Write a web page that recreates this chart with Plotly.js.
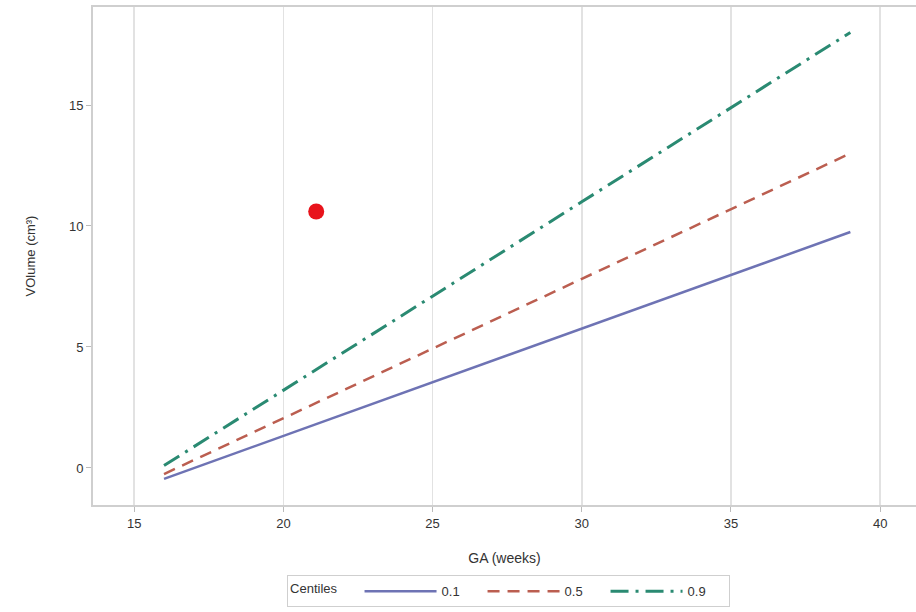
<!DOCTYPE html>
<html>
<head>
<meta charset="utf-8">
<script src="https://cdn.plot.ly/plotly-3.0.1.min.js"></script>
<style>html,body{margin:0;padding:0;background:#fff;}#chart{width:916px;height:612px;}</style>
</head>
<body>
<div id="chart"></div>
<script>
// Data
const ga = [16, 20, 25, 30, 35, 39];
const centile01 = [-0.45, 1.32, 3.54, 5.75, 7.97, 9.75];
const centile05 = [-0.25, 2.05, 4.93, 7.82, 10.7, 13.0];
const centile09 = [0.1, 3.2, 7.1, 11.0, 14.9, 18.0];
const pointGA = [21.1];
const pointVol = [10.6];
const seriesNames = ['0.1', '0.5', '0.9'];
const xTicks = [15, 20, 25, 30, 35, 40];
const yTicks = [0, 5, 10, 15];

const font = {family: 'Liberation Sans, Arial, sans-serif', size: 13, color: '#333'};

const traces = [
  {x: ga, y: centile01, mode: 'lines', name: seriesNames[0],
   line: {color: '#6e73b4', width: 2.5, dash: 'solid'}},
  {x: ga, y: centile05, mode: 'lines', name: seriesNames[1],
   line: {color: '#bb5e50', width: 2.5, dash: '12px,8px'}},
  {x: ga, y: centile09, mode: 'lines', name: seriesNames[2],
   line: {color: '#2a8a72', width: 3, dash: '18px,7px,3px,7px'}},
  {x: pointGA, y: pointVol, mode: 'markers', showlegend: false,
   marker: {color: '#e8131b', size: 16}}
];

const layout = {
  width: 916, height: 612,
  margin: {l: 93, r: 0, t: 7, b: 107, autoexpand: false},
  paper_bgcolor: '#fff', plot_bgcolor: '#fff',
  font: font,
  showlegend: true,
  xaxis: {
    range: [13.62, 41.2],
    tickvals: xTicks, ticktext: xTicks.map(String),
    showgrid: true, gridcolor: '#e2e2e2', gridwidth: 1.5,
    zeroline: false,
    showline: true, linecolor: '#cfcfcf', linewidth: 2, mirror: true,
    ticks: 'outside', ticklen: 5, tickcolor: '#bbb', tickwidth: 1,
    title: {text: 'GA (weeks)', font: {size: 14, color: '#333'}, standoff: 24}
  },
  yaxis: {
    range: [-1.53, 19.05],
    tickvals: yTicks, ticktext: yTicks.map(String),
    showgrid: false, zeroline: false,
    showline: true, linecolor: '#cfcfcf', linewidth: 2, mirror: true,
    ticks: 'outside', ticklen: 5, tickcolor: '#bbb', tickwidth: 1,
    title: {text: 'VOlume (cm³)', font: {size: 13, color: '#333'}, standoff: 30}
  },
  legend: {
    orientation: 'h', x: 0.505, xanchor: 'center', y: -0.141, yanchor: 'top',
    bordercolor: '#cfcfcf', borderwidth: 1, bgcolor: '#fff',
    title: {text: 'Centiles\u00a0\u00a0\u00a0\u00a0', font: {size: 13, color: '#333'}, side: 'left'},
    font: {size: 13, color: '#333'},
    itemwidth: 72,
    entrywidth: 36, entrywidthmode: 'pixels'
  }
};

Plotly.newPlot('chart', traces, layout, {displayModeBar: false, staticPlot: true});
</script>
</body>
</html>
